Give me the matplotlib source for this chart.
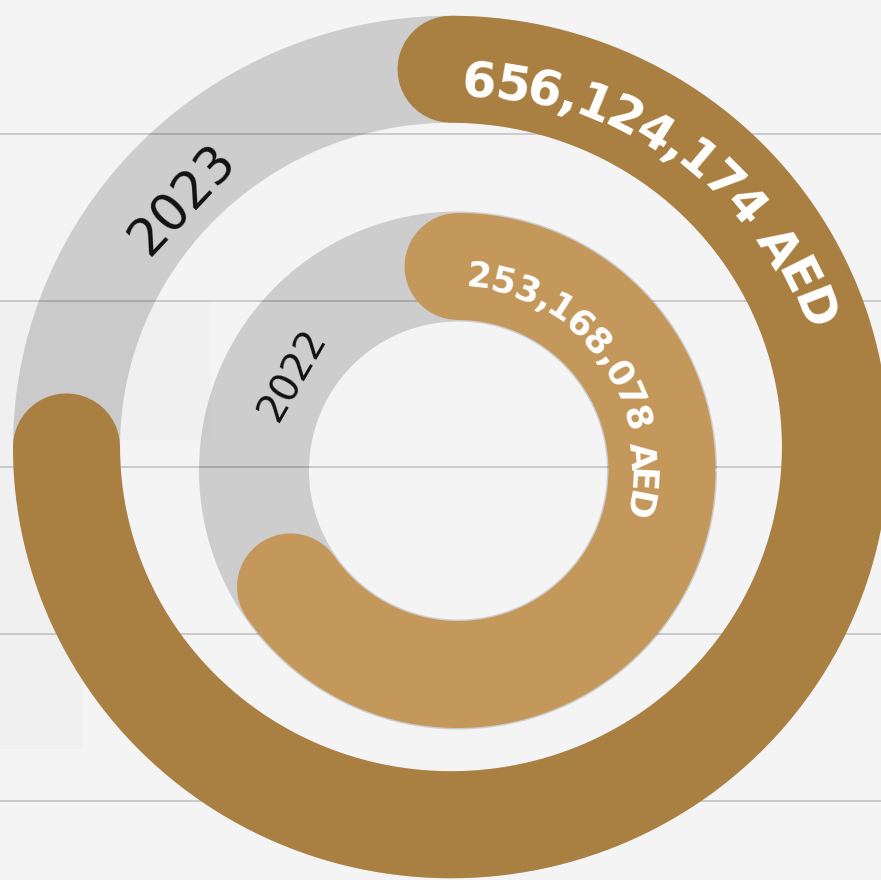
import numpy as np
import matplotlib.pyplot as plt
from matplotlib.font_manager import FontProperties

# data
years = ['2023', '2022']
values = [656124174, 253168078]
labels = ['656,124,174 AED', '253,168,078 AED']
full_turn = [874.8e6, 387.5e6]   # value that would close each ring

# layout (pixels)
centers = [(451, 447), (458, 470.5)]
radii = [(384.5, 377.75), (204.0, 204.0)]
band = 107
track_extra = [0, 3]
bar_colors = ['#a98041', '#c4975b']
DPI = 100
PT = 72 / DPI


def ring_xy(c, r, theta, k=1.0):
    t = np.radians(theta)
    return c[0] + k * r[0] * np.cos(t), c[1] - k * r[1] * np.sin(t)


fig = plt.figure(figsize=(8.81, 8.80), dpi=DPI)
fig.patch.set_facecolor('#f4f4f4')
ax = fig.add_axes([0, 0, 1, 1])
ax.set_facecolor('#f4f4f4')
ax.set_xlim(0, 881)
ax.set_ylim(880, 0)
ax.set_yticks(134 + 166.75 * np.arange(5))
ax.yaxis.grid(True, color='#c6c6c6', lw=1.3)
ax.set_axisbelow(True)
ax.tick_params(left=False, bottom=False, labelleft=False, labelbottom=False)
for s in ax.spines.values():
    s.set_visible(False)

# faint watermark block on the left
ax.fill([0, 210, 210, 83, 83, 0], [301, 301, 440, 440, 749, 749],
        color='#f0f0f0', lw=0, zorder=0.2)

renderer = fig.canvas.get_renderer()


def arc_text(s, c, r, th0, th1, k0, k1, size, weight, color):
    fp = FontProperties(family='DejaVu Sans', weight=weight, size=size)
    wid = lambda t: renderer.get_text_width_height_descent(t, fp, ismath=False)[0]
    cap = 0.729 * size / PT
    mids = [wid(s[:i]) + wid(s[i]) / 2 for i in range(len(s))]
    c0, c1 = mids[0], mids[-1]
    for ch, m in zip(s, mids):
        f = (m - c0) / (c1 - c0)
        th = th0 + f * (th1 - th0)
        k = k0 + f * (k1 - k0)
        rr = (r[0] * k - cap / 2, r[1] * k - cap / 2)
        x, y = ring_xy(c, rr, th)
        ax.text(x, y, ch, fontproperties=fp, color=color, ha='center',
                va='baseline', rotation=th - 90, rotation_mode='anchor', zorder=5)


def year_text(s, c, r, th, k, size):
    fp = FontProperties(family='DejaVu Sans', weight='normal', size=size)
    cap = 0.729 * size / PT
    rr = (r[0] * k - cap / 2, r[1] * k - cap / 2)
    x, y = ring_xy(c, rr, th)
    ax.text(x, y, s, fontproperties=fp, color='#111111', ha='center',
            va='baseline', rotation=th - 90, rotation_mode='anchor', zorder=5)


t_full = np.linspace(0, 360, 721)
for i in range(2):
    c, r = centers[i], radii[i]
    x, y = ring_xy(c, r, t_full)
    ax.plot(x, y, color='black', alpha=0.155, lw=(band + track_extra[i]) * PT,
            solid_capstyle='butt', zorder=1)
    sweep = 360 * values[i] / full_turn[i]
    t = np.linspace(90, 90 - sweep, 500)
    x, y = ring_xy(c, r, t)
    ax.plot(x, y, color=bar_colors[i], lw=band * PT,
            solid_capstyle='round', zorder=2)

arc_text(labels[0], centers[0], radii[0], 85.6, 21.1, 0.974, 1.016, 35.5, 'bold', 'white')
arc_text(labels[1], centers[1], radii[1], 83.9, -11.1, 0.966, 0.90, 25.5, 'bold', 'white')
year_text(years[0], centers[0], radii[0], 136.8, 0.967, 37)
year_text(years[1], centers[1], radii[1], 150.1, 0.95, 28)

fig.savefig('out.png', dpi=DPI, facecolor=fig.get_facecolor())
